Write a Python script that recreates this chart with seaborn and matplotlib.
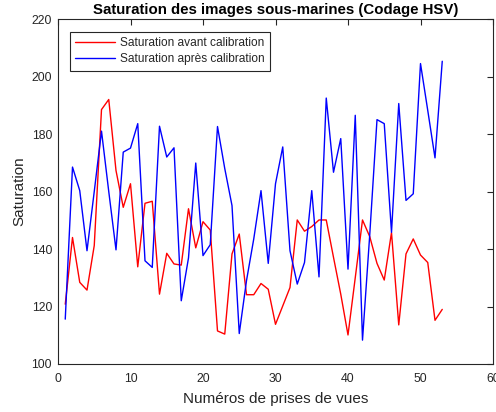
import numpy as np
import pandas as pd
import matplotlib
matplotlib.use("Agg")
import matplotlib.pyplot as plt
import seaborn as sns

x_vals = list(range(1, 54))
sat_avant = [120.8, 144.0, 128.4, 125.7, 141.2, 188.5, 192.0, 167.3, 154.5, 162.7,
             133.8, 155.9, 156.6, 124.3, 138.5, 134.8, 134.4, 154.0, 140.4, 149.5,
             146.6, 111.5, 110.4, 138.3, 145.2, 124.1, 124.1, 128.0, 126.0, 113.8,
             120.2, 126.6, 150.1, 146.2, 147.8, 150.1, 150.1, 137.1, 124.3, 110.1,
             130.0, 150.1, 144.3, 135.0, 129.2, 145.7, 113.6, 138.3, 143.5, 137.9,
             135.3, 115.2, 119.0]
sat_apres = [115.6, 168.5, 160.3, 139.4, 160.0, 181.0, 160.0, 139.7, 173.7, 175.1,
             183.6, 135.9, 133.6, 182.7, 172.0, 175.2, 122.0, 136.9, 169.9, 137.7,
             141.5, 182.6, 168.0, 155.1, 110.6, 129.0, 143.5, 160.3, 135.0, 162.7,
             175.5, 139.4, 127.8, 135.3, 160.3, 130.3, 192.5, 166.7, 178.4, 133.0,
             186.5, 108.3, 145.0, 185.0, 183.6, 145.8, 190.6, 156.9, 159.2, 204.5,
             188.2, 171.7, 205.3]
series_names = ["Saturation avant calibration", "Saturation après calibration"]
title_text = "Saturation des images sous-marines (Codage HSV)"
xlabel_text = "Numéros de prises de vues"
ylabel_text = "Saturation"
x_ticks = [0, 10, 20, 30, 40, 50, 60]
y_ticks = [100, 120, 140, 160, 180, 200, 220]

df = pd.DataFrame({
    "x": x_vals * 2,
    "y": sat_avant + sat_apres,
    "serie": [series_names[0]] * len(x_vals) + [series_names[1]] * len(x_vals),
})

sns.set_style("white")
plt.rcParams["font.family"] = ["Liberation Sans", "DejaVu Sans"]
txt = "#262626"

fig = plt.figure(figsize=(4.96, 4.12), dpi=100)
ax = fig.add_axes([58/496, 1 - 364/412, (493-58)/496, (364-19)/412])
sns.lineplot(data=df, x="x", y="y", hue="serie",
             palette={series_names[0]: "#ff0000", series_names[1]: "#0000ff"},
             linewidth=1.0, ax=ax, legend=True)

ax.set_xlim(0, 60)
ax.set_ylim(100, 220)
ax.set_xticks(x_ticks)
ax.set_yticks(y_ticks)
ax.tick_params(axis="both", direction="in", length=4, width=0.8, colors=txt,
               labelsize=8.8, top=True, right=True, labeltop=False, labelright=False)
ax.tick_params(axis="x", pad=6.5)
ax.tick_params(axis="y", pad=4.3)
for s in ax.spines.values():
    s.set_visible(True)
    s.set_color(txt)
    s.set_linewidth(0.8)

ax.set_title(title_text, fontsize=10.8, fontweight="bold", color="black", pad=3.5)
ax.set_xlabel(xlabel_text, fontsize=11, color=txt, labelpad=5)
ax.set_ylabel(ylabel_text, fontsize=11, color=txt, labelpad=4)

leg = ax.legend(loc="upper left", bbox_to_anchor=((70-58)/435, (364-32)/345),
                borderaxespad=0, fontsize=8.6,
                frameon=True, fancybox=False, edgecolor=txt, framealpha=1,
                handlelength=3.35, handletextpad=0.4, borderpad=0.45, labelspacing=0.32)
leg.get_frame().set_linewidth(0.8)
for t in leg.get_texts():
    t.set_color(txt)

fig.savefig("out.png", dpi=100, facecolor="white")
